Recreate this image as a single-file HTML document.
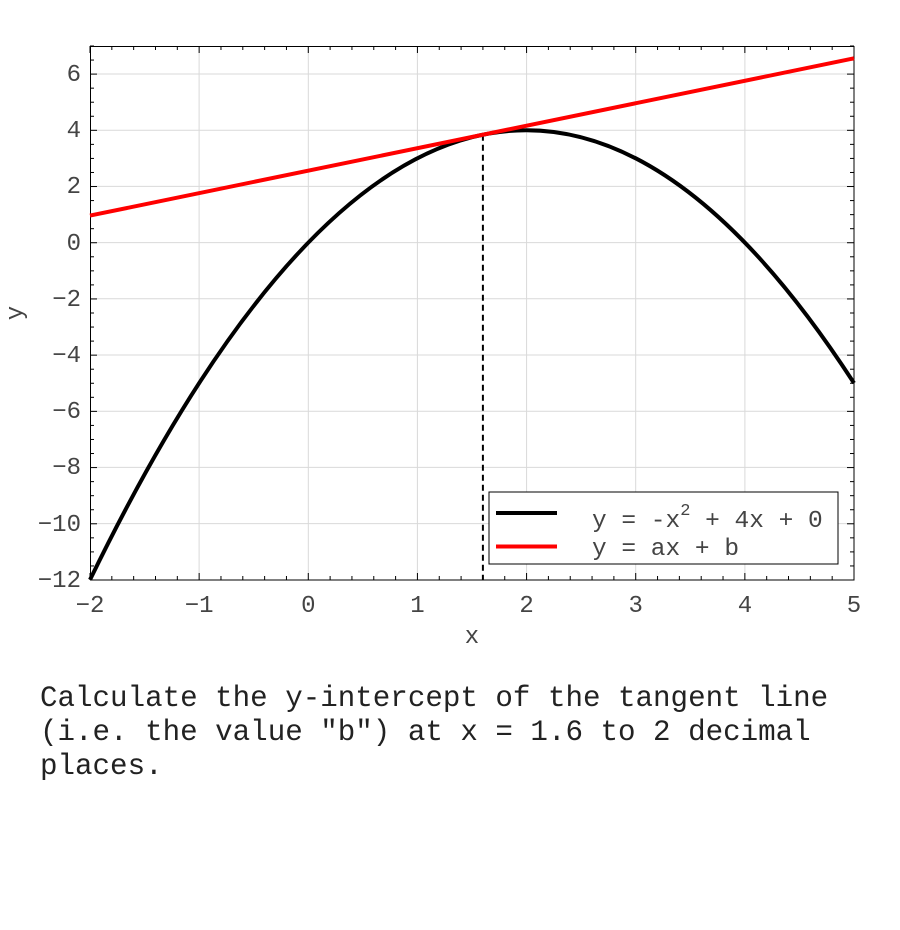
<!DOCTYPE html>
<html><head><meta charset="utf-8"><style>
html,body{margin:0;padding:0;background:#fff;}
body{width:900px;height:930px;position:relative;overflow:hidden;}
svg text{font-family:"Liberation Mono",monospace;fill:#444;}
.q{position:absolute;left:40px;top:682px;font-family:"Liberation Mono",monospace;font-size:29.2px;line-height:34px;color:#222;white-space:pre;}
</style></head><body>
<svg width="900" height="660" style="position:absolute;left:0;top:0">
<g stroke="#d9d9d9" stroke-width="1">
<line x1="199.1" y1="46" x2="199.1" y2="580"/><line x1="308.3" y1="46" x2="308.3" y2="580"/><line x1="417.4" y1="46" x2="417.4" y2="580"/><line x1="526.6" y1="46" x2="526.6" y2="580"/><line x1="635.7" y1="46" x2="635.7" y2="580"/><line x1="744.9" y1="46" x2="744.9" y2="580"/>
<line x1="90" y1="74" x2="854" y2="74"/><line x1="90" y1="130.2" x2="854" y2="130.2"/><line x1="90" y1="186.4" x2="854" y2="186.4"/><line x1="90" y1="242.6" x2="854" y2="242.6"/><line x1="90" y1="298.8" x2="854" y2="298.8"/><line x1="90" y1="355" x2="854" y2="355"/><line x1="90" y1="411.2" x2="854" y2="411.2"/><line x1="90" y1="467.4" x2="854" y2="467.4"/><line x1="90" y1="523.6" x2="854" y2="523.6"/>
</g>
<g id="ticks" stroke="#000" stroke-width="1"></g>
<rect x="90.5" y="46.5" width="763.5" height="533.5" fill="none" stroke="#000" stroke-width="1"/>
<line x1="482.9" y1="134.7" x2="482.9" y2="580" stroke="#000" stroke-width="2" stroke-dasharray="6,4"/>
<path d="M90,579.8 Q472,-207 854,383.1" fill="none" stroke="#000" stroke-width="4"/>
<line x1="90" y1="215.6" x2="854" y2="58.3" stroke="#f00" stroke-width="4"/>
<rect x="489" y="492" width="349" height="72" fill="#fff" stroke="#000" stroke-width="1"/>
<line x1="496" y1="513" x2="557" y2="513" stroke="#000" stroke-width="4"/>
<line x1="496" y1="546.5" x2="557" y2="546.5" stroke="#f00" stroke-width="4"/>
<text x="592" y="527" font-size="24.5">y = -x<tspan dy="-12" font-size="17">2</tspan><tspan dy="12"> + 4x + 0</tspan></text>
<text x="592" y="555" font-size="24.5">y = ax + b</text>
<g font-size="24" text-anchor="middle">
<text x="90" y="612">−2</text><text x="199.1" y="612">−1</text><text x="308.3" y="612">0</text><text x="417.4" y="612">1</text><text x="526.6" y="612">2</text><text x="635.7" y="612">3</text><text x="744.9" y="612">4</text><text x="854" y="612">5</text>
<text x="472" y="643">x</text>
</g>
<g font-size="24" text-anchor="end">
<text x="81" y="81">6</text><text x="81" y="137">4</text><text x="81" y="193">2</text><text x="81" y="250">0</text><text x="81" y="306">−2</text><text x="81" y="362">−4</text><text x="81" y="418">−6</text><text x="81" y="474">−8</text><text x="81" y="531">−10</text><text x="81" y="587">−12</text>
</g>
<text x="22" y="313" font-size="24" text-anchor="middle" transform="rotate(-90 22 313)">y</text>
</svg>
<script>
var g=document.getElementById('ticks'),s='';
for(var i=0;i<=35;i++){var x=90+i*764/35,L=(i%5==0)?7:4;
s+='<line x1="'+x+'" y1="580" x2="'+x+'" y2="'+(580-L)+'"/><line x1="'+x+'" y1="46" x2="'+x+'" y2="'+(46+L)+'"/>';}
for(var j=0;j<=38;j++){var y=580-j*534/38,L2=(j%4==0)?7:4;
s+='<line x1="90" y1="'+y+'" x2="'+(90+L2)+'" y2="'+y+'"/><line x1="854" y1="'+y+'" x2="'+(854-L2)+'" y2="'+y+'"/>';}
g.innerHTML=s;
</script>
<div class="q">Calculate the y-intercept of the tangent line
(i.e. the value "b") at x = 1.6 to 2 decimal
places.</div>
</body></html>
